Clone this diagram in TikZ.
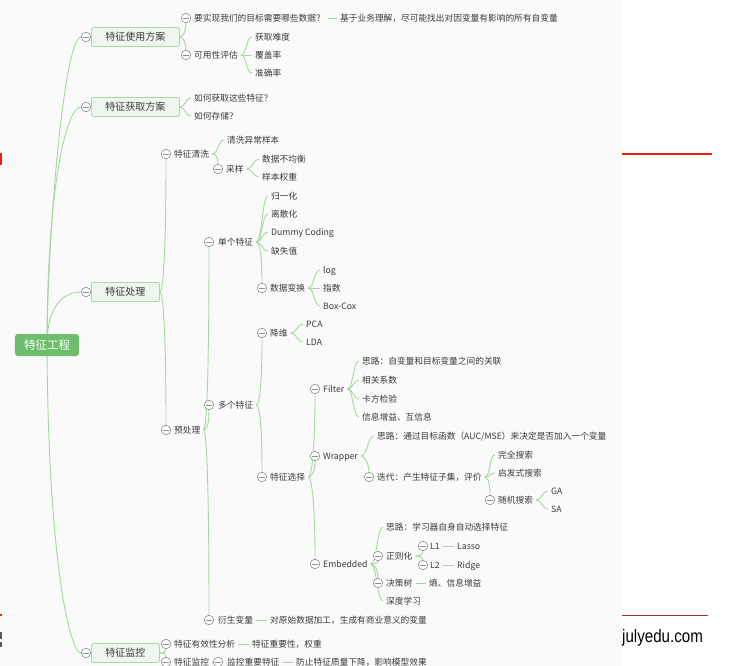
\documentclass[tikz,border=0pt]{standalone}
\usepackage{fontspec}
\usepackage{graphicx}
\newfontfamily\cjk{Noto Sans CJK SC}
\newfontfamily\lsans{Liberation Sans}
\definecolor{ln}{HTML}{A3D89E}
\definecolor{tx}{HTML}{3A3A3A}
\definecolor{cg}{HTML}{8E8E8E}
\definecolor{bxfill}{HTML}{EEF7ED}
\definecolor{bxline}{HTML}{A8D8A3}
\definecolor{rootc}{HTML}{6DBE6C}
\definecolor{bgc}{HTML}{FAFAFA}
\definecolor{redl}{HTML}{E8230C}
\definecolor{darkl}{HTML}{A3322A}
\pgfdeclarelayer{back}
\pgfdeclarelayer{lines}
\pgfsetlayers{back,lines,main}
\newcommand\lf[2]{\draw[conn] (#1.east) .. controls +(6,0) and +(-6,0) .. (#2.west);}
\newcommand\cu[3]{\draw[conn] (#1.east) .. controls +(4,0) and +(0,#3) .. (#2.south);}
\newcommand\cd[3]{\draw[conn] (#1.east) .. controls +(4,0) and +(0,-#3) .. (#2.north);}
\newcommand\dsh[2]{\draw[conn] (#1.east) -- (#2.west);}
\begin{document}
\begin{tikzpicture}[x=1bp,y=-1bp,
  conn/.style={draw=ln, line width=0.9bp},
  root/.style={fill=rootc, rounded corners=3bp, minimum width=64bp, minimum height=22bp, inner sep=0pt, text=white, font=\cjk\fontsize{11.5bp}{13bp}\selectfont},
  bx/.style={anchor=west, fill=bxfill, draw=bxline, line width=0.8bp, rounded corners=2bp, minimum height=19bp, inner sep=0pt, text=tx, font=\cjk\fontsize{10bp}{12bp}\selectfont},
  txt/.style={anchor=west, xshift=-3bp, inner xsep=3bp, inner ysep=0pt, text=tx, font=\cjk\fontsize{8.7bp}{10bp}\selectfont, text height=7.6bp, text depth=1bp},
  cb/.style={circle, draw=cg, fill=white, line width=0.6bp, minimum size=9.5bp, inner sep=0pt,
    path picture={\draw[cg, line width=0.6bp] ([xshift=-2.8bp]path picture bounding box.center) -- ([xshift=2.8bp]path picture bounding box.center);}}
]
\useasboundingbox (0,0) rectangle (736,666);
\begin{pgfonlayer}{back}
\fill[white] (0,0) rectangle (736,666);
\fill[bgc] (0,0) rectangle (622,666);
\fill[redl] (0,153) rectangle (2,165);
\fill[redl] (0,614) rectangle (2,616);
\fill[gray!70!black] (0,632) rectangle (1.5,639);
\fill[gray!70!black] (0,642) rectangle (1.5,647);
\end{pgfonlayer}
\draw[redl, line width=1.5bp] (622,154) -- (712,154);
\draw[darkl, line width=1bp] (622,615) -- (708,615);
\node[anchor=base west, inner sep=0pt, font=\lsans\fontsize{18bp}{20bp}\selectfont, text=black] (web) at (622,642.3) {\scalebox{0.84}[1]{julyedu.com}};

% root and main branches
\node[root] (root) at (47,345) {特征工程};
\node[bx, minimum width=88bp] (b1) at (91,37) {特征使用方案};
\node[bx, minimum width=88bp] (b2) at (91,107) {特征获取方案};
\node[bx, minimum width=68bp] (b3) at (91,292) {特征处理};
\node[bx, minimum width=68bp] (b4) at (91,653) {特征监控};
\node[cb] (cb1) at (86,37) {};
\node[cb] (cb2) at (86,107) {};
\node[cb] (cb3) at (86,292) {};
\node[cb] (cb4) at (86,653) {};

% branch 1
\node[cb] (c11) at (186,18) {};
\node[txt] (t11) at (194,18) {要实现我们的目标需要哪些数据？};
\node[txt] (t11a) at (340,18) {基于业务理解，尽可能找出对因变量有影响的所有自变量};
\node[cb] (c12) at (186,55) {};
\node[txt] (t12) at (194,55) {可用性评估};
\node[txt] (t121) at (255,37) {获取难度};
\node[txt] (t122) at (255,55) {覆盖率};
\node[txt] (t123) at (255,73) {准确率};

% branch 2
\node[txt] (t21) at (194,98) {如何获取这些特征？};
\node[txt] (t22) at (194,116) {如何存储？};

% branch 3
\node[cb] (c31) at (166,154) {};
\node[txt] (t31) at (174,154) {特征清洗};
\node[txt] (t311) at (227,140) {清洗异常样本};
\node[cb] (c312) at (218,169) {};
\node[txt] (t312) at (226,169) {采样};
\node[txt] (t3121) at (262,159) {数据不均衡};
\node[txt] (t3122) at (262,177) {样本权重};
\node[cb] (c32) at (166,430) {};
\node[txt] (t32) at (174,430) {预处理};
\node[cb] (c321) at (209,242) {};
\node[txt] (t321) at (218,242) {单个特征};
\node[txt] (t3211) at (271,196) {归一化};
\node[txt] (t3212) at (271,214) {离散化};
\node[txt] (t3213) at (271,232) {Dummy Coding};
\node[txt] (t3214) at (271,251) {缺失值};
\node[cb] (c3215) at (262,288) {};
\node[txt] (t3215) at (270,288) {数据变换};
\node[txt] (tlog) at (323,270) {log};
\node[txt] (texp) at (323,288) {指数};
\node[txt] (tbox) at (323,306) {Box-Cox};
\node[cb] (c322) at (209,405) {};
\node[txt] (t322) at (218,405) {多个特征};
\node[cb] (c3221) at (262,333) {};
\node[txt] (t3221) at (270,333) {降维};
\node[txt] (tpca) at (306,324) {PCA};
\node[txt] (tlda) at (306,342) {LDA};
\node[cb] (c3222) at (262,477) {};
\node[txt] (t3222) at (270,477) {特征选择};
\node[cb] (cF) at (315,389) {};
\node[txt] (tF) at (323,389) {Filter};
\node[txt] (f1) at (362,361) {思路：自变量和目标变量之间的关联};
\node[txt] (f2) at (362,380) {相关系数};
\node[txt] (f3) at (362,399) {卡方检验};
\node[txt] (f4) at (362,417) {信息增益、互信息};
\node[cb] (cW) at (315,456) {};
\node[txt] (tW) at (323,456) {Wrapper};
\node[txt] (w1) at (377,436) {思路：通过目标函数（AUC/MSE）来决定是否加入一个变量};
\node[cb] (cW2) at (369,477) {};
\node[txt] (tW2) at (377,477) {迭代：产生特征子集，评价};
\node[txt] (w21) at (498,455) {完全搜索};
\node[txt] (w22) at (498,473) {启发式搜索};
\node[cb] (cW23) at (490,500) {};
\node[txt] (tW23) at (498,500) {随机搜索};
\node[txt] (tga) at (551,491) {GA};
\node[txt] (tsa) at (551,509) {SA};
\node[cb] (cE) at (315,564) {};
\node[txt] (tE) at (323,564) {Embedded};
\node[txt] (e1) at (386,527) {思路：学习器自身自动选择特征};
\node[cb] (cE2) at (378,556) {};
\node[txt] (tE2) at (386,556) {正则化};
\node[cb] (cL1) at (423,546) {};
\node[txt] (tL1) at (430,546) {L1};
\node[txt] (tlasso) at (457,546) {Lasso};
\node[cb] (cL2) at (423,565) {};
\node[txt] (tL2) at (430,565) {L2};
\node[txt] (tridge) at (457,565) {Ridge};
\node[cb] (cE3) at (378,583) {};
\node[txt] (tE3) at (386,583) {决策树};
\node[txt] (e3a) at (429,583) {熵、信息增益};
\node[txt] (e4) at (386,601) {深度学习};
\node[cb] (c323) at (209,620) {};
\node[txt] (t323) at (218,620) {衍生变量};
\node[txt] (t323a) at (270,620) {对原始数据加工，生成有商业意义的变量};

% branch 4
\node[cb] (c41) at (166,644) {};
\node[txt] (t41) at (174,644) {特征有效性分析};
\node[txt] (t41a) at (252,644) {特征重要性，权重};
\node[cb] (c42) at (166,662) {};
\node[txt] (t42) at (174,662) {特征监控};
\node[cb] (c421) at (218,662) {};
\node[txt] (t421) at (227,662) {监控重要特征};
\node[txt] (t421a) at (296,662) {防止特征质量下降，影响模型效果};

\begin{pgfonlayer}{lines}
\draw[conn] (root.center) .. controls (48,220) and (65,37) .. (cb1.west);
\draw[conn] (root.center) .. controls (47,190) and (66,107) .. (cb2.west);
\draw[conn] (root.center) .. controls (47,305) and (64,292) .. (cb3.west);
\draw[conn] (root.center) .. controls (48,560) and (70,653) .. (cb4.west);
\cu{b1}{c11}{6}
\cd{b1}{c12}{6}
\lf{b2}{t21}
\lf{b2}{t22}
\cu{b3}{c31}{80}
\cd{b3}{c32}{80}
\cu{b4}{c41}{3}
\cd{b4}{c42}{3}
\dsh{t11}{t11a}
\lf{t12}{t121}
\lf{t12}{t122}
\lf{t12}{t123}
\lf{t31}{t311}
\cd{t31}{c312}{6}
\lf{t312}{t3121}
\lf{t312}{t3122}
\cu{t32}{c321}{100}
\cu{t32}{c322}{12}
\cd{t32}{c323}{100}
\lf{t321}{t3211}
\lf{t321}{t3212}
\lf{t321}{t3213}
\lf{t321}{t3214}
\cd{t321}{c3215}{25}
\lf{t3215}{tlog}
\lf{t3215}{texp}
\lf{t3215}{tbox}
\cu{t322}{c3221}{40}
\cd{t322}{c3222}{40}
\lf{t3221}{tpca}
\lf{t3221}{tlda}
\cu{t3222}{cF}{50}
\cu{t3222}{cW}{10}
\cd{t3222}{cE}{50}
\lf{tF}{f1}
\lf{tF}{f2}
\lf{tF}{f3}
\lf{tF}{f4}
\lf{tW}{w1}
\cd{tW}{cW2}{8}
\lf{tW2}{w21}
\lf{tW2}{w22}
\cd{tW2}{cW23}{8}
\lf{tW23}{tga}
\lf{tW23}{tsa}
\lf{tE}{e1}
\cu{tE}{cE2}{2}
\cd{tE}{cE3}{8}
\lf{tE}{e4}
\cu{tE2}{cL1}{3}
\cd{tE2}{cL2}{3}
\dsh{tL1}{tlasso}
\dsh{tL2}{tridge}
\dsh{tE3}{e3a}
\dsh{t323}{t323a}
\dsh{t41}{t41a}
\dsh{t42}{c421}
\dsh{t421}{t421a}
\end{pgfonlayer}
\end{tikzpicture}
\end{document}
